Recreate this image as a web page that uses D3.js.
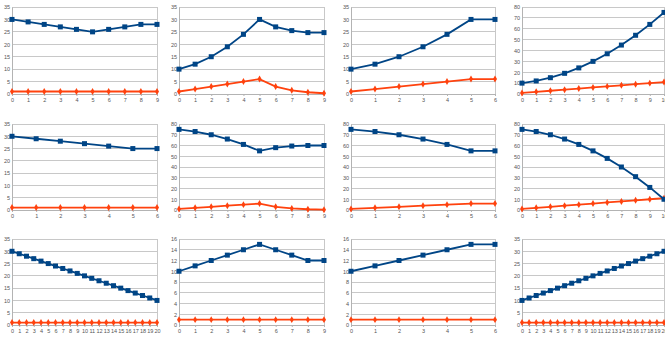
<!DOCTYPE html>
<html><head><meta charset="utf-8">
<script src="https://cdn.jsdelivr.net/npm/d3@7"></script>
<style>body{margin:0;background:#fff}svg{display:block}</style>
</head><body>
<script>
// ---- data ----
const x10 = [0,1,2,3,4,5,6,7,8,9];
const x7 = [0,1,2,3,4,5,6];
const x11 = [0,1,2,3,4,5,6,7,8,9,10];
const x21 = [0,1,2,3,4,5,6,7,8,9,10,11,12,13,14,15,16,17,18,19,20];

const blue1 = [30,29,28,27,26,25,26,27,28,28];
const orange1 = [1,1,1,1,1,1,1,1,1,1];
const blue2 = [10,12,15,19,24,30,27,25.5,24.7,24.7];
const orange2 = [1,2,3,4,5,6,3,1.5,0.7,0.3];
const blue3 = [10,12,15,19,24,30,30];
const orange3 = [1,2,3,4,5,6,6];
const blue4 = [10,12,15,19,24,30,37,45,54,64,75];
const orange4 = [1,2,3,4,5,6,7,8,9,10,11];
const blue5 = [30,29,28,27,26,25,25];
const orange5 = [1,1,1,1,1,1,1];
const blue6 = [75,73,70,66,61,55,58,59.5,60,60];
const orange6 = [1,2,3,4,5,6,3,1.5,0.7,0.3];
const blue7 = [75,73,70,66,61,55,55];
const orange7 = [1,2,3,4,5,6,6];
const blue8 = [75,73,70,66,61,55,48,40,31,21,10];
const orange8 = [1,2,3,4,5,6,7,8,9,10,11];
const blue9 = [30,29,28,27,26,25,24,23,22,21,20,19,18,17,16,15,14,13,12,11,10];
const orange9 = [1,1,1,1,1,1,1,1,1,1,1,1,1,1,1,1,1,1,1,1,1];
const blue10 = [10,11,12,13,14,15,14,13,12,12];
const orange10 = [1,1,1,1,1,1,1,1,1,1];
const blue11 = [10,11,12,13,14,15,15];
const orange11 = [1,1,1,1,1,1,1];
const blue12 = [10,11,12,13,14,15,16,17,18,19,20,21,22,23,24,25,26,27,28,29,30];
const orange12 = [1,1,1,1,1,1,1,1,1,1,1,1,1,1,1,1,1,1,1,1,1];

const ticks35 = [0,5,10,15,20,25,30,35];
const ticks80 = [0,10,20,30,40,50,60,70,80];
const ticks16 = [0,2,4,6,8,10,12,14,16];

const panels = [
  {x:x10, blue:blue1, orange:orange1, yt:ticks35},
  {x:x10, blue:blue2, orange:orange2, yt:ticks35},
  {x:x7,  blue:blue3, orange:orange3, yt:ticks35},
  {x:x11, blue:blue4, orange:orange4, yt:ticks80},
  {x:x7,  blue:blue5, orange:orange5, yt:ticks35},
  {x:x10, blue:blue6, orange:orange6, yt:ticks80},
  {x:x7,  blue:blue7, orange:orange7, yt:ticks80},
  {x:x11, blue:blue8, orange:orange8, yt:ticks80},
  {x:x21, blue:blue9, orange:orange9, yt:ticks35},
  {x:x10, blue:blue10, orange:orange10, yt:ticks16},
  {x:x7,  blue:blue11, orange:orange11, yt:ticks16},
  {x:x21, blue:blue12, orange:orange12, yt:ticks35}
];

// ---- layout ----
const W = 665, H = 341;
const cols = [[12,157],[179,324],[351,495],[522,664]];
const rows = [[7,94],[124,210],[239,325]];
const BLUE = "#004586", ORANGE = "#ff420e";

const svg = d3.select("body").append("svg").attr("width",W).attr("height",H);

panels.forEach((p,i)=>{
  const c = cols[i%4], r = rows[Math.floor(i/4)];
  const xs = d3.scaleLinear().domain([p.x[0], p.x[p.x.length-1]]).range(c);
  const ys = d3.scaleLinear().domain([0, p.yt[p.yt.length-1]]).range([r[1], r[0]]);
  const g = svg.append("g");
  // gridlines
  g.selectAll("line.grid").data(p.yt).join("line")
    .attr("x1",c[0]).attr("x2",c[1])
    .attr("y1",d=>ys(d)).attr("y2",d=>ys(d))
    .attr("stroke","#c8c8c8").attr("stroke-width",1).attr("shape-rendering","crispEdges");
  // right border
  g.append("line").attr("x1",c[1]).attr("x2",c[1]).attr("y1",r[0]).attr("y2",r[1])
    .attr("stroke","#c8c8c8").attr("shape-rendering","crispEdges");
  // y axis
  const ya = d3.axisLeft(ys).tickValues(p.yt).tickSize(0).tickPadding(2);
  const yg = g.append("g").attr("transform",`translate(${c[0]},0)`).call(ya);
  // x axis
  const xa = d3.axisBottom(xs).tickValues(p.x).tickSize(2).tickPadding(2).tickFormat(d3.format("d"));
  const xg = g.append("g").attr("transform",`translate(0,${r[1]})`).call(xa);
  [yg,xg].forEach(a=>{
    a.select(".domain").attr("stroke","#b3b3b3");
    a.selectAll(".tick line").attr("stroke","#b3b3b3");
    a.selectAll("text").attr("fill","#555").style("font-family","Liberation Sans, Arial, sans-serif").style("font-size","5.5px");
  });
  // series
  const line = (vals)=>d3.line().x((d,j)=>xs(p.x[j])).y(d=>ys(d))(vals);
  g.append("path").attr("d",line(p.orange)).attr("fill","none").attr("stroke",ORANGE).attr("stroke-width",1.8);
  g.append("path").attr("d",line(p.blue)).attr("fill","none").attr("stroke",BLUE).attr("stroke-width",1.8);
  g.selectAll("path.om").data(p.orange).join("path")
    .attr("d",d3.symbol(d3.symbolDiamond,14)())
    .attr("transform",(d,j)=>`translate(${xs(p.x[j])},${ys(d)})`)
    .attr("fill",ORANGE);
  g.selectAll("rect.bm").data(p.blue).join("rect")
    .attr("x",(d,j)=>xs(p.x[j])-2.5).attr("y",d=>ys(d)-2.5)
    .attr("width",5).attr("height",5).attr("fill",BLUE);
});
</script>
</body></html>
